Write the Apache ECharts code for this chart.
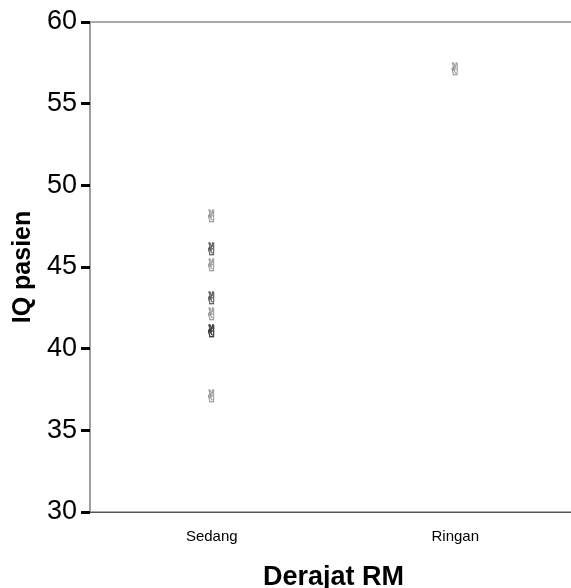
<!DOCTYPE html>
<html>
<head>
<meta charset="utf-8">
<style>
  html, body { margin: 0; padding: 0; background: #fff; }
  #main { width: 571px; height: 588px; }
</style>
<script src="https://cdn.jsdelivr.net/npm/echarts@6/dist/echarts.min.js"></script>
</head>
<body>
<div id="main"></div>
<script>
// kategori derajat RM
var categories = ["Sedang", "Ringan"];
// IQ tiap pasien (titik yang bertumpuk ditulis berulang)
var iqSedang = [48, 46, 46, 45, 43, 43, 42, 41, 41, 41, 37];
var iqRingan = [57];
var yTicks = { min: 30, max: 60, interval: 5 };

var points = [];
iqSedang.forEach(function (v) { points.push(["Sedang", v]); });
iqRingan.forEach(function (v) { points.push(["Ringan", v]); });

var chart = echarts.init(document.getElementById("main"));
var font = "Liberation Sans, Arial, sans-serif";

var option = {
  animation: false,
  backgroundColor: "#fff",
  grid: {
    left: 90, top: 22, width: 487, height: 490,
    outerBoundsMode: "none",
    containLabel: false,
    show: true, borderColor: "#555", borderWidth: 1
  },
  xAxis: {
    type: "category",
    data: categories,
    name: "Derajat RM",
    nameLocation: "middle",
    nameGap: 52,
    nameTextStyle: { fontFamily: font, fontWeight: "bold", fontSize: 27, color: "#000" },
    axisLine: { lineStyle: { color: "#555", width: 1 } },
    axisTick: { alignWithLabel: true, length: 9, lineStyle: { color: "#000", width: 4 } },
    axisLabel: { margin: 17, fontFamily: font, fontSize: 15, color: "#000" },
    splitLine: { show: false }
  },
  yAxis: {
    type: "value",
    min: yTicks.min, max: yTicks.max, interval: yTicks.interval,
    name: "IQ pasien",
    nameLocation: "middle",
    nameGap: 53,
    nameTextStyle: { fontFamily: font, fontWeight: "bold", fontSize: 25, color: "#000" },
    axisLine: { show: true, lineStyle: { color: "#a0a0a0", width: 2 } },
    axisTick: { show: true, length: 9, lineStyle: { color: "#000", width: 3 } },
    axisLabel: { margin: 13, fontFamily: font, fontSize: 27, color: "#000" },
    splitLine: { show: false }
  },
  series: [{
    type: "scatter",
    data: points,
    symbolSize: 2,
    itemStyle: { color: "rgba(0,0,0,0)" },
    label: {
      show: true,
      position: "inside",
      offset: [0, -9],
      formatter: "\u270C",
      fontFamily: "DejaVu Sans, Noto Sans CJK SC, sans-serif",
      fontSize: 17,
      color: "rgba(0,0,0,0.4)",
      textBorderColor: "rgba(0,0,0,0.3)",
      textBorderWidth: 0.8
    },
    labelLayout: { hideOverlap: false }
  }]
};

chart.setOption(option);
</script>
</body>
</html>
